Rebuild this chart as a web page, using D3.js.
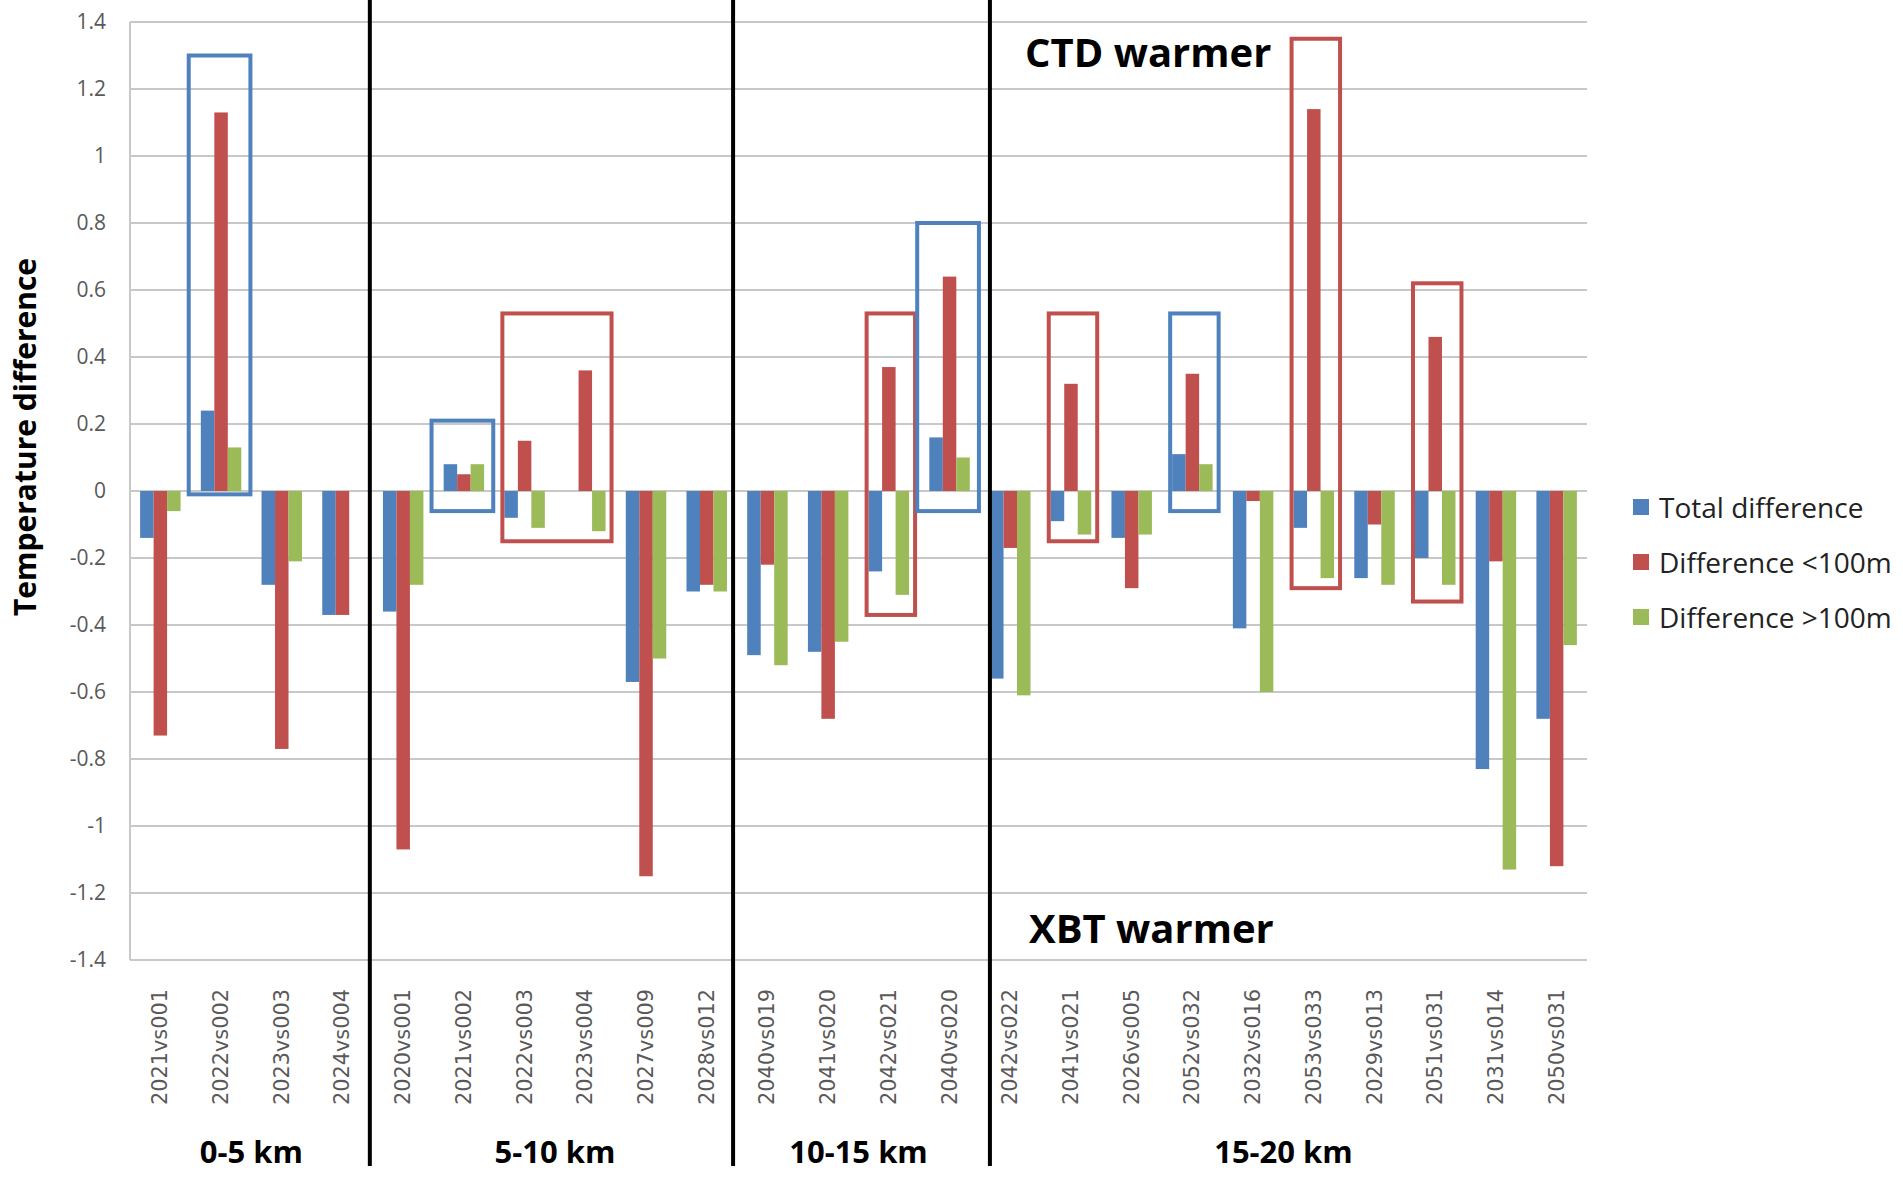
<!DOCTYPE html>
<html>
<head>
<meta charset="utf-8">
<script src="https://d3js.org/d3.v7.min.js"></script>
<style>
  body { margin: 0; background: #fff; }
  text { font-family: "Open Sans", "DejaVu Sans", sans-serif; }
</style>
</head>
<body>
<svg width="1903" height="1177"></svg>
<script>
// categories (pairs) and depth groups
var pairs = ['2021vs001','2022vs002','2023vs003','2024vs004',
  '2020vs001','2021vs002','2022vs003','2023vs004','2027vs009','2028vs012',
  '2040vs019','2041vs020','2042vs021','2040vs020',
  '2042vs022','2041vs021','2026vs005','2052vs032','2032vs016','2053vs033','2029vs013','2051vs031','2031vs014','2050vs031'];
var groups = ['0-5 km','5-10 km','10-15 km','15-20 km'];
var groupSizes = [4, 6, 4, 10];

var seriesNames = ['Total difference','Difference <100m','Difference >100m'];
var totalDiff = [-0.14,0.24,-0.28,-0.37, -0.36,0.08,-0.08,0,-0.57,-0.30, -0.49,-0.48,-0.24,0.16,
  -0.56,-0.09,-0.14,0.11,-0.41,-0.11,-0.26,-0.20,-0.83,-0.68];
var diffUnder = [-0.73,1.13,-0.77,-0.37, -1.07,0.05,0.15,0.36,-1.15,-0.28, -0.22,-0.68,0.37,0.64,
  -0.17,0.32,-0.29,0.35,-0.03,1.14,-0.10,0.46,-0.21,-1.12];
var diffOver = [-0.06,0.13,-0.21,0, -0.28,0.08,-0.11,-0.12,-0.50,-0.30, -0.52,-0.45,-0.31,0.10,
  -0.61,-0.13,-0.13,0.08,-0.60,-0.26,-0.28,-0.28,-1.13,-0.46];

var yTicks = [1.4,1.2,1,0.8,0.6,0.4,0.2,0,-0.2,-0.4,-0.6,-0.8,-1,-1.2,-1.4];

// highlight boxes: first/last pair, top/bottom value, colour, tight or full band
var boxes = [
  { from: '2022vs002', to: '2022vs002', top: 1.30, bottom: -0.01, color: 'blue', wide: true },
  { from: '2021vs002', to: '2021vs002', top: 0.21, bottom: -0.06, color: 'blue', wide: true },
  { from: '2022vs003', to: '2023vs004', top: 0.53, bottom: -0.15, color: 'red', wide: false },
  { from: '2042vs021', to: '2042vs021', top: 0.53, bottom: -0.37, color: 'red', wide: false },
  { from: '2040vs020', to: '2040vs020', top: 0.80, bottom: -0.06, color: 'blue', wide: true },
  { from: '2041vs021', to: '2041vs021', top: 0.53, bottom: -0.15, color: 'red', wide: false },
  { from: '2052vs032', to: '2052vs032', top: 0.53, bottom: -0.06, color: 'blue', wide: false },
  { from: '2053vs033', to: '2053vs033', top: 1.35, bottom: -0.29, color: 'red', wide: false },
  { from: '2051vs031', to: '2051vs031', top: 0.62, bottom: -0.33, color: 'red', wide: false }
];

var colors = { blue: '#4F81BD', red: '#C0504D', green: '#9BBB59' };
var seriesColors = [colors.blue, colors.red, colors.green];

var svg = d3.select('svg');

var x = d3.scaleBand().domain(pairs).range([130, 1587]);
var xs = d3.scaleBand().domain(seriesNames).range([0, x.bandwidth()]).paddingOuter(0.75);
var y = d3.scaleLinear().domain([-1.4, 1.4]).range([960, 22]);

// gridlines
svg.append('g')
  .selectAll('line')
  .data(yTicks)
  .enter().append('line')
  .attr('x1', x.range()[0]).attr('x2', x.range()[1])
  .attr('y1', d => y(d)).attr('y2', d => y(d))
  .attr('stroke', '#c8c8c8').attr('stroke-width', 2);

// left axis line
svg.append('line')
  .attr('x1', 130).attr('x2', 130)
  .attr('y1', y(1.4)).attr('y2', y(-1.4))
  .attr('stroke', '#c8c8c8').attr('stroke-width', 2);

// y tick labels (plain hyphen for negatives, like the original)
var yAxis = svg.append('g')
  .attr('transform', 'translate(106,0)')
  .call(d3.axisLeft(y).tickValues(yTicks).tickSize(0).tickFormat(d => String(d)));
yAxis.select('.domain').remove();
yAxis.selectAll('text')
  .attr('x', 0)
  .style('font-family', '"Open Sans", sans-serif')
  .style('font-size', '21px')
  .attr('fill', '#595959');

// bars
var table = pairs.map((p, i) => ({ pair: p, values: [totalDiff[i], diffUnder[i], diffOver[i]] }));
var cat = svg.append('g')
  .selectAll('g')
  .data(table)
  .enter().append('g')
  .attr('transform', d => 'translate(' + x(d.pair) + ',0)');

cat.selectAll('rect')
  .data(d => d.values.map((v, k) => ({ name: seriesNames[k], value: v, k: k })))
  .enter().append('rect')
  .attr('x', d => xs(d.name))
  .attr('width', xs.bandwidth())
  .attr('y', d => y(Math.max(0, d.value)))
  .attr('height', d => Math.abs(y(d.value) - y(0)))
  .attr('fill', d => seriesColors[d.k]);

// category labels
svg.append('g')
  .selectAll('text')
  .data(pairs)
  .enter().append('text')
  .attr('transform', d => 'translate(' + (x(d) + x.bandwidth() / 2) + ',989) rotate(-90)')
  .attr('text-anchor', 'end')
  .attr('dominant-baseline', 'central')
  .attr('textLength', 116)
  .attr('lengthAdjust', 'spacingAndGlyphs')
  .style('font-family', '"DejaVu Sans", sans-serif')
  .style('font-size', '21px')
  .attr('fill', '#595959')
  .text(d => d);

// highlight boxes
svg.append('g')
  .selectAll('rect')
  .data(boxes)
  .enter().append('rect')
  .attr('x', d => d.wide ? x(d.from) - 2 : x(d.from) + xs(seriesNames[0]) - 2)
  .attr('y', d => y(d.top))
  .attr('width', d => d.wide ? (x(d.to) + x.bandwidth() - x(d.from)) + 1
    : (x(d.to) + xs(seriesNames[2]) + xs.bandwidth() + 6) - (x(d.from) + xs(seriesNames[0]) - 2))
  .attr('height', d => y(d.bottom) - y(d.top))
  .attr('fill', 'none')
  .attr('stroke', d => colors[d.color])
  .attr('stroke-width', 4);

// group dividers
var starts = [];
var acc = 0;
groupSizes.forEach(n => { starts.push(acc); acc += n; });
var dividerShift = [-3, -4, 10];
svg.append('g')
  .selectAll('line')
  .data(starts.slice(1))
  .enter().append('line')
  .attr('x1', (d, i) => x(pairs[d]) + dividerShift[i])
  .attr('x2', (d, i) => x(pairs[d]) + dividerShift[i])
  .attr('y1', 0).attr('y2', 1166)
  .attr('stroke', '#000').attr('stroke-width', 4);

// group labels
svg.append('g')
  .selectAll('text')
  .data(groups)
  .enter().append('text')
  .attr('x', (d, i) => (x(pairs[starts[i]]) + x(pairs[starts[i] + groupSizes[i] - 1]) + x.bandwidth()) / 2)
  .attr('y', 1163)
  .attr('text-anchor', 'middle')
  .style('font-weight', 'bold')
  .style('font-size', '31px')
  .attr('fill', '#000')
  .text(d => d);

// annotations
svg.append('text')
  .attr('x', 1025).attr('y', 67)
  .style('font-weight', 'bold').style('font-size', '40px')
  .text('CTD warmer');
svg.append('text')
  .attr('x', 1029).attr('y', 943)
  .style('font-weight', 'bold').style('font-size', '40px')
  .text('XBT warmer');

// y axis title
svg.append('text')
  .attr('transform', 'translate(24,437) rotate(-90)')
  .attr('text-anchor', 'middle')
  .attr('dominant-baseline', 'central')
  .style('font-weight', 'bold').style('font-size', '30px')
  .text('Temperature difference');

// legend
var legend = svg.append('g')
  .selectAll('g')
  .data(seriesNames)
  .enter().append('g')
  .attr('transform', (d, i) => 'translate(1633,' + (507 + i * 55) + ')');
legend.append('rect')
  .attr('x', 0).attr('y', -8)
  .attr('width', 16).attr('height', 16)
  .attr('fill', (d, i) => seriesColors[i]);
legend.append('text')
  .attr('x', 26).attr('y', 0)
  .attr('dominant-baseline', 'central')
  .style('font-size', '28px')
  .attr('fill', '#222')
  .text(d => d);
</script>
</body>
</html>
